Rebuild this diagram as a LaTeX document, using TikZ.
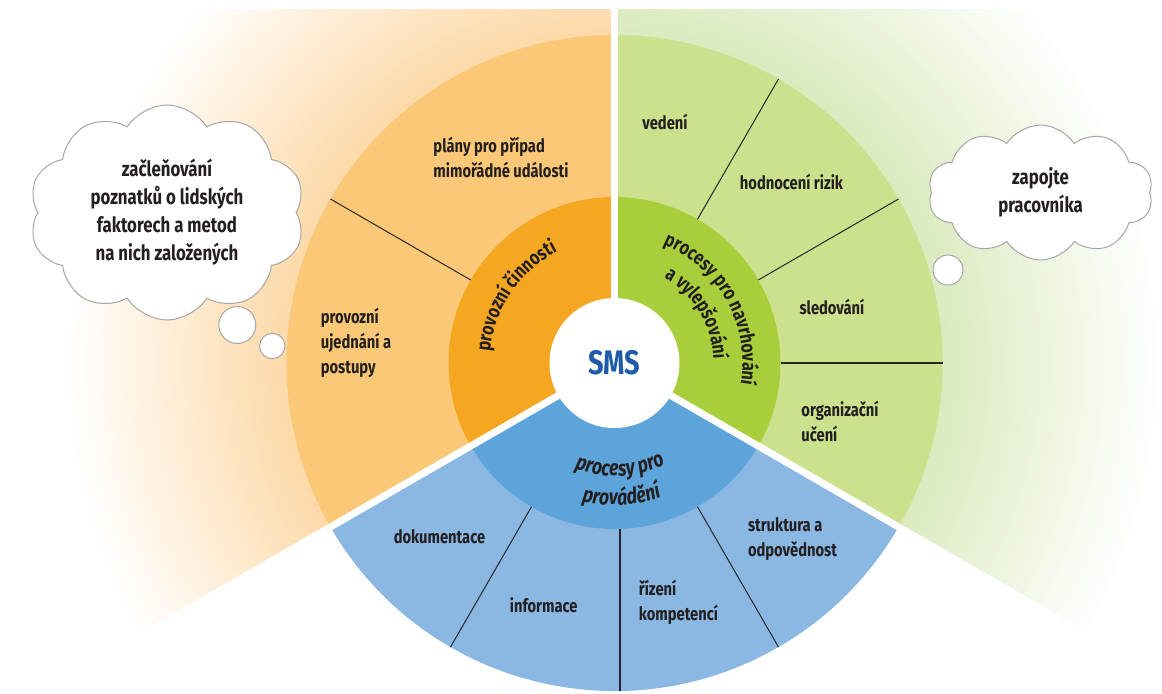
\documentclass[tikz,border=0pt]{standalone}
\usepackage{fontspec}
\setmainfont{Fira Sans}[FakeStretch=0.8]
\usetikzlibrary{shapes.symbols,decorations.text}

\definecolor{orin}{HTML}{F6A722}
\definecolor{orout}{HTML}{FBC877}
\definecolor{orfan}{HTML}{FDDAAA}
\definecolor{grin}{HTML}{A9CE3B}
\definecolor{grout}{HTML}{CCE18E}
\definecolor{grfan}{HTML}{DBEABF}
\definecolor{blin}{HTML}{5DA4DA}
\definecolor{blout}{HTML}{8AB8E3}
\definecolor{smsblue}{HTML}{1E5BA8}
\definecolor{txt}{HTML}{231F20}
\definecolor{cloudline}{HTML}{A6A6A6}

\begin{document}
\begin{tikzpicture}[x=0.5pt,y=0.5pt,
  lbl/.style={font=\fontsize{9.2}{12.5}\selectfont\bfseries,text=txt,align=left,inner sep=0pt},
  cloudy/.style={cloud,cloud puffs=10,cloud puff arc=115,cloud ignores aspect,draw=cloudline,fill=white,
    line width=0.5pt,text=txt,font=\fontsize{10.5}{14}\selectfont\bfseries,align=center},
  bubble/.style={circle,draw=cloudline,fill=white,line width=0.5pt,inner sep=0pt},
  divider/.style={line width=0.5pt,black!85},
  gap/.style={white,line width=3.5pt}]

\useasboundingbox (-614.5,-330) rectangle (547.5,363);

% faded fans behind the wheel
\begin{scope}
\clip (0,0) -- (0,354) -- (-700,354) -- (210:810) -- cycle;
\foreach \r in {548,545,...,326}{
  \pgfmathsetmacro\pct{min(100,(548-\r)/2.15)}
  \fill[orfan!\pct!white] (0,0) circle (\r);}
\end{scope}
\begin{scope}
\clip (0,0) -- (0,354) -- (700,354) -- (-30:810) -- cycle;
\foreach \r in {548,545,...,326}{
  \pgfmathsetmacro\pct{min(100,(548-\r)/2.15)}
  \fill[grfan!\pct!white] (0,0) circle (\r);}
\end{scope}

% outer and inner rings
\fill[orout] (0,0) -- (90:328) arc[start angle=90,end angle=210,radius=328] -- cycle;
\fill[grout] (0,0) -- (-30:328) arc[start angle=-30,end angle=90,radius=328] -- cycle;
\fill[blout] (0,0) -- (210:328) arc[start angle=210,end angle=330,radius=328] -- cycle;
\fill[orin] (0,0) -- (90:166) arc[start angle=90,end angle=210,radius=166] -- cycle;
\fill[grin] (0,0) -- (-30:166) arc[start angle=-30,end angle=90,radius=166] -- cycle;
\fill[blin] (0,0) -- (210:166) arc[start angle=210,end angle=330,radius=166] -- cycle;

\foreach \a in {150,60,30,240,300}
  \draw[divider] (\a:166) -- (\a:328);
\draw[divider,line width=1pt] (0:166) -- (0:328);
\draw[divider,line width=1pt] ([xshift=2.75pt]270:166) -- ([xshift=2.75pt]270:328);

\draw[gap] (0,0) -- (90:400);
\draw[gap] (0,0) -- (210:560);
\draw[gap] (0,0) -- (330:560);

\node[circle,fill=white,minimum size=65pt,inner sep=0pt,text=smsblue,
  font=\fontsize{17}{17}\selectfont\bfseries] (sms) at (0,0) {SMS};

% texts on the inner ring
\path[decorate,decoration={text along path,text align=center,
  text={|\fontsize{10}{10}\selectfont\bfseries\color{txt}|provozní činnosti}}]
  (186:125) arc[start angle=186,end angle=106,radius=125];
\path[decorate,decoration={text along path,text align=center,
  text={|\fontsize{10}{10}\selectfont\bfseries\color{txt}|procesy pro navrhování}}]
  (80:128) arc[start angle=80,end angle=-22,radius=128];
\path[decorate,decoration={text along path,text align=center,
  text={|\fontsize{10}{10}\selectfont\bfseries\color{txt}|a vylepšování}}]
  (75:99) arc[start angle=75,end angle=-13,radius=99];
\path[decorate,decoration={text along path,text align=center,
  text={|\fontsize{11}{11}\selectfont\bfseries\itshape\color{txt}|procesy pro}}]
  (228:113) arc[start angle=228,end angle=318,radius=113];
\path[decorate,decoration={text along path,text align=center,
  text={|\fontsize{11}{11}\selectfont\bfseries\itshape\color{txt}|provádění}}]
  (233:142) arc[start angle=233,end angle=313,radius=142];

% texts on the outer ring
\node[lbl] (o1) at (-113.5,206) {plány pro případ\\mimořádné události};
\node[lbl] (o2) at (-258.5,20) {provozní\\ujednání a\\postupy};
\node[lbl] (g1) at (50.5,241) {vedení};
\node[lbl] (g2) at (177,181) {hodnocení rizik};
\node[lbl] (g3) at (217.5,56) {sledování};
\node[lbl] (g4) at (225.5,-58) {organizační\\učení};
\node[lbl] (b1) at (178,-176.5) {struktura a\\odpovědnost};
\node[lbl] (b2) at (64,-239.5) {řízení\\kompetencí};
\node[lbl] (b3) at (-70.8,-242) {informace};
\node[lbl] (b4) at (-175,-174) {dokumentace};

% thought clouds
\node[cloudy,minimum width=138pt,minimum height=107.5pt] (c1) at (-447.5,150.5)
  {začleňování\\poznatků o lidských\\faktorech a metod\\na nich založených};
\node[bubble,minimum size=18.5pt] (c1a) at (-377.2,38) {};
\node[bubble,minimum size=12.7pt] (c1b) at (-342.2,17) {};
\node[cloudy,minimum width=112.5pt,minimum height=67.5pt] (c2) at (426,170.5)
  {zapojte\\pracovníka};
\node[bubble,minimum size=15pt] (c2a) at (333.5,93) {};
\end{tikzpicture}
\end{document}
